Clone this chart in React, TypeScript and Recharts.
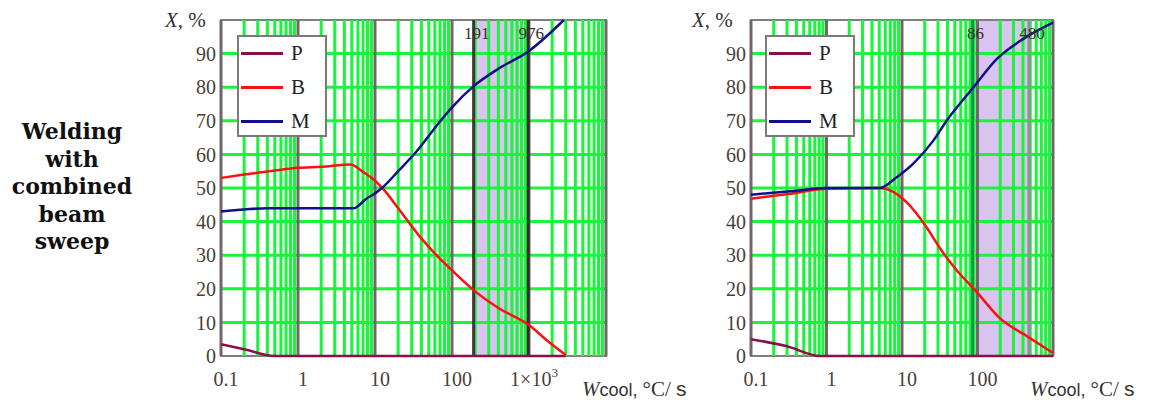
import React from 'react';
import {
  LineChart,
  Line,
  XAxis,
  YAxis,
  ReferenceLine,
  ReferenceArea,
} from 'recharts';

// cooling rate (°C/s) vs fraction, left panel
const leftP = [
  { x: 0.1, v: 3.5 }, { x: 0.2, v: 2 }, { x: 0.5, v: 0 }, { x: 3000, v: 0 },
];
const leftB = [
  { x: 0.1, v: 53 }, { x: 0.2, v: 54 }, { x: 0.5, v: 55.2 }, { x: 1, v: 56 },
  { x: 2, v: 56.3 }, { x: 4.8, v: 57 }, { x: 7, v: 54.8 }, { x: 10, v: 52.2 },
  { x: 13, v: 49.5 }, { x: 20, v: 44 }, { x: 40, v: 35 }, { x: 60, v: 30.5 },
  { x: 100, v: 25.5 }, { x: 191, v: 19.6 }, { x: 400, v: 14.3 }, { x: 1000, v: 9.2 },
  { x: 1700, v: 4.7 }, { x: 3000, v: 0.3 },
];
const leftM = [
  { x: 0.1, v: 43 }, { x: 0.2, v: 43.6 }, { x: 0.4, v: 44 }, { x: 1, v: 44 },
  { x: 3, v: 44 }, { x: 5.4, v: 44 }, { x: 6.3, v: 45 }, { x: 7.5, v: 46.6 },
  { x: 10, v: 48.4 }, { x: 13, v: 50.5 }, { x: 20, v: 55 }, { x: 35, v: 61 },
  { x: 71, v: 70 }, { x: 100, v: 74 }, { x: 193, v: 80.4 }, { x: 400, v: 85.5 },
  { x: 1000, v: 90.8 }, { x: 2840, v: 100 },
];

// right panel
const rightP = [
  { x: 0.1, v: 5 }, { x: 0.3, v: 2.9 }, { x: 0.82, v: 0 }, { x: 1000, v: 0 },
];
const rightB = [
  { x: 0.1, v: 46.8 }, { x: 0.33, v: 48.3 }, { x: 1, v: 49.8 }, { x: 5.1, v: 50 },
  { x: 11.5, v: 45.8 }, { x: 21, v: 38.4 }, { x: 32, v: 32 }, { x: 53, v: 25.5 },
  { x: 93, v: 19.6 }, { x: 199, v: 11.2 }, { x: 467, v: 5.7 }, { x: 1000, v: 0.9 },
];
const rightM = [
  { x: 0.1, v: 48 }, { x: 0.33, v: 49 }, { x: 1, v: 50 }, { x: 5.1, v: 50 },
  { x: 8.5, v: 53.2 }, { x: 14, v: 57.2 }, { x: 26, v: 64.1 }, { x: 39, v: 70 },
  { x: 88, v: 79.9 }, { x: 178, v: 88.3 }, { x: 400, v: 94.3 }, { x: 1000, v: 99.2 },
];

const leftTicks = [0.1, 1, 10, 100, 1000];
const rightTicks = [0.1, 1, 10, 100];
const yTicks = [0, 10, 20, 30, 40, 50, 60, 70, 80, 90];
const yGrid = [10, 20, 30, 40, 50, 60, 70, 80, 90];
const minorSteps = [2, 3, 4, 5, 6, 7, 8, 9];
const leftDecades = [0.1, 1, 10, 100, 1000, 10000];
const rightDecades = [0.1, 1, 10, 100, 1000];
const leftShade = [191, 976];
const rightShade = [86, 480];
const seriesNames = ['P', 'B', 'M'];
const seriesColors = ['#8a0f4a', '#ff1010', '#10108a'];

const GREEN = '#18f53a';
const DECADE = '#74656c';
const TICK_COLOR = '#4a3f38';

const minorLines = (decades: number[]) =>
  decades.slice(0, -1).flatMap((d) => minorSteps.map((k) => +(d * k).toPrecision(3)));

const XTick = (props: any) => {
  const { x, y, payload } = props;
  const val = payload.value;
  return (
    <text x={x + 5} y={y} textAnchor="middle" fontFamily="Liberation Serif" fontSize={20} fill={TICK_COLOR}>
      {val === 1000 ? (
        <>
          <tspan>1×10</tspan>
          <tspan dy={-9} fontSize={13}>3</tspan>
        </>
      ) : (
        String(val)
      )}
    </text>
  );
};

const LegendBox = ({ left }: { left: number }) => (
  <div style={{ position: 'absolute', left, top: 35, width: 90, height: 102, background: '#fff', border: '2px solid #7a7a7a', boxSizing: 'border-box' }}>
    {seriesNames.map((name, i) => (
      <div key={name} style={{ position: 'absolute', left: 2, top: 5 + i * 34, display: 'flex', alignItems: 'center' }}>
        <div style={{ width: 42, height: 3, background: seriesColors[i] }} />
        <span style={{ marginLeft: 8, fontFamily: 'Liberation Serif', fontSize: 21, color: '#222', lineHeight: '22px' }}>{name}</span>
      </div>
    ))}
  </div>
);

type Pt = { x: number; v: number };
type PanelProps = {
  xMax: number;
  width: number;
  marginLeft: number;
  marginRight: number;
  ticks: number[];
  decades: number[];
  shade: number[];
  shadeEdgeColors: string[];
  series: Pt[][];
};

const Panel = (p: PanelProps) => (
  <LineChart
    width={p.width}
    height={410}
    margin={{ top: 20, right: p.marginRight, left: p.marginLeft, bottom: 24 }}
  >
    <XAxis
      dataKey="x"
      type="number"
      scale="log"
      domain={[0.1, p.xMax]}
      ticks={p.ticks}
      interval={0}
      allowDataOverflow
      axisLine={false}
      tickLine={false}
      tickSize={0}
      tickMargin={30}
      height={30}
      tick={<XTick />}
    />
    <YAxis
      dataKey="v"
      type="number"
      domain={[0, 100]}
      ticks={yTicks}
      interval={0}
      axisLine={false}
      tickLine={false}
      tickSize={0}
      tickMargin={5}
      width={40}
      tick={{ fontFamily: 'Liberation Serif', fontSize: 20, fill: TICK_COLOR }}
    />
    <ReferenceArea x1={p.shade[0]} x2={p.shade[1]} y1={0} y2={100} fill="#d8c4ee" fillOpacity={1} stroke="none" />
    {yGrid.map((v) => (
      <ReferenceLine key={'h' + v} y={v} stroke={GREEN} strokeWidth={3} />
    ))}
    {minorLines(p.decades).map((v) => (
      <ReferenceLine key={'m' + v} x={v} stroke={GREEN} strokeWidth={3} />
    ))}
    {p.decades.map((v) => (
      <ReferenceLine key={'d' + v} x={v} stroke={DECADE} strokeWidth={3} />
    ))}
    {p.shade.map((v, i) => (
      <ReferenceLine
        key={'s' + v}
        x={v}
        stroke={p.shadeEdgeColors[i]}
        strokeWidth={3}
        label={{ value: String(v), position: 'insideTop', offset: 7, fill: '#3a2f2f', fontFamily: 'Liberation Serif', fontSize: 17, dx: 3 }}
      />
    ))}
    <ReferenceArea x1={0.1} x2={p.xMax} y1={0} y2={100} fill="none" stroke="#7f7f7f" strokeWidth={2} />
    {p.series.map((data, i) => (
      <Line key={seriesNames[i]} data={data} dataKey="v" name={seriesNames[i]} type="monotone" stroke={seriesColors[i]} strokeWidth={2.5} dot={false} isAnimationActive={false} />
    ))}
  </LineChart>
);

const AxisTitle = ({ left }: { left: number }) => (
  <div style={{ position: 'absolute', left, top: 377, whiteSpace: 'nowrap', color: '#333', fontSize: 21 }}>
    <span style={{ fontFamily: 'Liberation Serif', fontStyle: 'italic' }}>W</span>
    <span style={{ fontFamily: 'Liberation Sans', fontSize: 18 }}>cool, </span>
    <span style={{ fontFamily: 'Liberation Serif' }}>°C/ </span>
    <span style={{ fontFamily: 'Liberation Sans' }}>s</span>
  </div>
);

const YTitle = ({ left }: { left: number }) => (
  <div style={{ position: 'absolute', left, top: 8, fontFamily: 'Liberation Serif', fontSize: 21, color: '#333', whiteSpace: 'nowrap' }}>
    <i>X</i>, %
  </div>
);

export default function App() {
  return (
    <div style={{ position: 'absolute', left: 0, top: 0, width: 1160, height: 410, background: '#fff', overflow: 'hidden' }}>
      <div style={{ position: 'absolute', left: 0, top: 0 }}>
        <Panel
          xMax={10000}
          width={700}
          marginLeft={181}
          marginRight={94}
          ticks={leftTicks}
          decades={leftDecades}
          shade={leftShade}
          shadeEdgeColors={['#4a2f3a', '#3a2a30']}
          series={[leftP, leftB, leftM]}
        />
      </div>
      <div style={{ position: 'absolute', left: 540, top: 0 }}>
        <Panel
          xMax={1000}
          width={620}
          marginLeft={171}
          marginRight={107}
          ticks={rightTicks}
          decades={rightDecades}
          shade={rightShade}
          shadeEdgeColors={['#119a44', '#9a8a9a']}
          series={[rightP, rightB, rightM]}
        />
      </div>
      <LegendBox left={237} />
      <LegendBox left={765} />
      <YTitle left={165} />
      <YTitle left={692} />
      <AxisTitle left={582} />
      <AxisTitle left={1030} />
      <div style={{ position: 'absolute', left: 2, top: 118, width: 140, textAlign: 'center', fontFamily: 'DejaVu Serif', fontWeight: 'bold', fontSize: 22, lineHeight: '27.5px', color: '#111' }}>
        Welding<br />with<br />combined<br />beam<br />sweep
      </div>
    </div>
  );
}
